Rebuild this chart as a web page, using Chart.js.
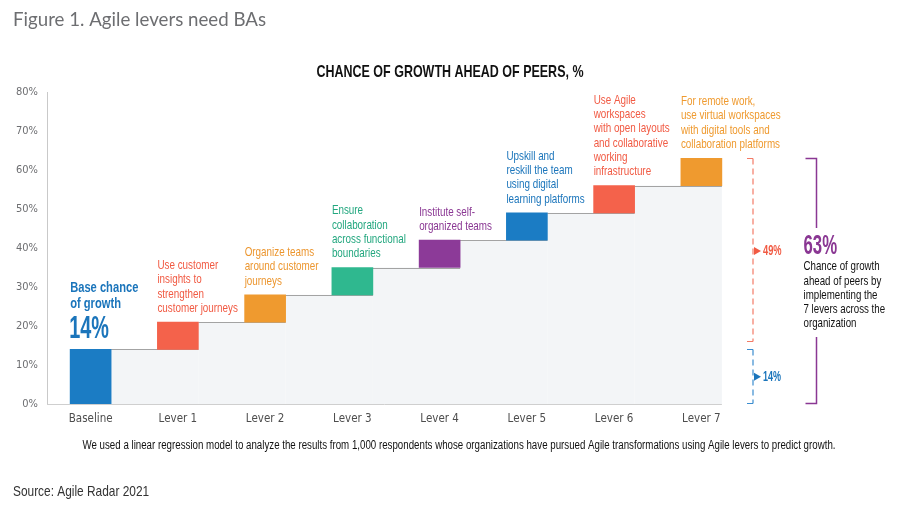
<!DOCTYPE html>
<html><head><meta charset="utf-8">
<script src="https://cdn.jsdelivr.net/npm/chart.js@4"></script>
<style>html,body{margin:0;padding:0;background:#fff;}canvas{display:block;}</style>
</head><body>
<canvas id="c" width="902" height="512" style="width:902px;height:512px"></canvas>
<script>
const categories = ['Baseline','Lever 1','Lever 2','Lever 3','Lever 4','Lever 5','Lever 6','Lever 7'];
const barStart = [0,14,21,28,35,42,49,56];
const barEnd = [14,21,28,35,42,49,56,63];
const barColors = ['#1b7cc4','#f4624b','#ef9a2f','#2fb88f','#8c3a98','#1b7cc4','#f4624b','#ef9a2f'];
const noteColors = ['#1b75bb','#f15a43','#ec962f','#23a77f','#8a3793','#1b75bb','#f15a43','#ef9a2f'];
const leverNotes = [
  ['Base chance','of growth'],
  ['Use customer','insights to','strengthen','customer journeys'],
  ['Organize teams','around customer','journeys'],
  ['Ensure','collaboration','across functional','boundaries'],
  ['Institute self-','organized teams'],
  ['Upskill and','reskill the team','using digital','learning platforms'],
  ['Use Agile','workspaces','with open layouts','and collaborative','working','infrastructure'],
  ['For remote work,','use virtual workspaces','with digital tools and','collaboration platforms']
];
const yTicks = [0,10,20,30,40,50,60,70,80];
const baseLabel = '14%';
const leverGainLabel = '49%';
const totalLabel = '63%';
const leverBracket = [16,63];
const baseBracket = [0,14];
const totalBracket = [0,63];
const totalNote = ['Chance of growth','ahead of peers by','implementing the','7 levers across the','organization'];
const headerText = 'Figure 1. Agile levers need BAs';
const chartTitle = 'CHANCE OF GROWTH AHEAD OF PEERS, %';
const footnote = 'We used a linear regression model to analyze the results from 1,000 respondents whose organizations have pursued Agile transformations using Agile levers to predict growth.';
const sourceText = 'Source: Agile Radar 2021';

const fontA = '"Liberation Sans", Arial, sans-serif';
const fontC = '"DejaVu Sans Condensed", sans-serif';

// text helper; sx = horizontal condensing factor
function txt(ctx, s, x, y, font, color, align, sx, maxW) {
  ctx.save();
  ctx.font = font; ctx.fillStyle = color; ctx.textAlign = align || 'left'; ctx.textBaseline = 'middle';
  ctx.translate(x, y);
  ctx.scale(sx || 1, 1);
  if (maxW) ctx.fillText(s, 0, 0, maxW / (sx || 1)); else ctx.fillText(s, 0, 0);
  ctx.restore();
}

const deco = {
  id: 'deco',
  beforeDatasetsDraw(chart) {
    const {ctx, chartArea: a, scales: {y}} = chart;
    const meta = chart.getDatasetMeta(0);
    const y0 = y.getPixelForValue(0);
    ctx.save();
    ctx.fillStyle = '#f3f5f7';
    for (let i = 1; i < meta.data.length; i++) {
      const p = meta.data[i-1], q = meta.data[i];
      const x0 = p.x + p.width/2, x1 = q.x + q.width/2;
      const yt = y.getPixelForValue(barStart[i]);
      ctx.fillRect(x0, yt, x1 - x0, y0 - yt);
    }
    ctx.strokeStyle = '#a3a3a3'; ctx.lineWidth = 1;
    for (let i = 1; i < meta.data.length; i++) {
      const p = meta.data[i-1], q = meta.data[i];
      const x0 = p.x + p.width/2, x1 = q.x + q.width/2;
      const yt = Math.round(y.getPixelForValue(barStart[i])) + 0.5;
      ctx.beginPath(); ctx.moveTo(x0, yt); ctx.lineTo(x1, yt); ctx.stroke();
    }
    const last = meta.data[meta.data.length-1];
    ctx.strokeStyle = '#cfcfcf';
    ctx.beginPath(); ctx.moveTo(a.left, Math.round(y0)+0.5); ctx.lineTo(last.x + last.width/2, Math.round(y0)+0.5); ctx.stroke();
    ctx.restore();
  },
  afterDraw(chart) {
    const {ctx, chartArea: a, scales: {y}} = chart;
    const meta = chart.getDatasetMeta(0);
    ctx.save();
    // header texts
    txt(ctx, headerText, 13, 20, '19px Lato, "Open Sans", sans-serif', '#6d6e71', 'left', 1, 253);
    txt(ctx, chartTitle, 450, 72, 'bold 17px ' + fontA, '#111', 'center', 0.78, 267);
    txt(ctx, footnote, 459, 446, '12.5px ' + fontA, '#111', 'center', 0.8, 753);
    txt(ctx, sourceText, 13, 492, '14.5px ' + fontA, '#333', 'left', 0.82, 138);
    // lever notes
    const lh = 14.3;
    for (let i = 1; i < meta.data.length; i++) {
      const b = meta.data[i];
      const xl = b.x - b.width/2;
      const top = y.getPixelForValue(barEnd[i]);
      const lines = leverNotes[i];
      lines.forEach((s, k) => {
        const yy = top - 14 - (lines.length - 1 - k) * lh;
        txt(ctx, s, xl, yy, '13.5px ' + fontA, noteColors[i], 'left', 0.73);
      });
    }
    // baseline note
    const b0 = meta.data[0];
    const xl0 = b0.x - b0.width/2;
    const top0 = y.getPixelForValue(barEnd[0]);
    txt(ctx, leverNotes[0][0], xl0, top0 - 62, 'bold 15.5px ' + fontA, noteColors[0], 'left', 0.72);
    txt(ctx, leverNotes[0][1], xl0, top0 - 46, 'bold 15.5px ' + fontA, noteColors[0], 'left', 0.72);
    txt(ctx, baseLabel, xl0 - 1, top0 - 20, 'bold 32px ' + fontA, noteColors[0], 'left', 0.62);
    // brackets
    const bx = a.right + 8;
    function dashedBracket(range, color) {
      const yt = Math.round(y.getPixelForValue(range[1])) + 0.5;
      const yb = Math.round(y.getPixelForValue(range[0])) - 0.5;
      ctx.strokeStyle = color; ctx.lineWidth = 1.2;
      ctx.setLineDash([]);
      ctx.beginPath(); ctx.moveTo(bx - 6, yt); ctx.lineTo(bx, yt); ctx.moveTo(bx - 6, yb); ctx.lineTo(bx, yb); ctx.stroke();
      ctx.setLineDash([6, 4]);
      ctx.beginPath(); ctx.moveTo(bx, yt); ctx.lineTo(bx, yb); ctx.stroke();
      ctx.setLineDash([]);
    }
    function arrow(yc, color) {
      ctx.fillStyle = color;
      ctx.beginPath(); ctx.moveTo(bx + 1, yc - 4); ctx.lineTo(bx + 8, yc); ctx.lineTo(bx + 1, yc + 4); ctx.closePath(); ctx.fill();
    }
    dashedBracket(leverBracket, '#f37b67');
    arrow(251, '#f15a43');
    txt(ctx, leverGainLabel, bx + 10, 251, 'bold 15px ' + fontA, '#f15a43', 'left', 0.62);
    dashedBracket(baseBracket, '#3b8dcf');
    const yb14 = (y.getPixelForValue(baseBracket[0]) + y.getPixelForValue(baseBracket[1])) / 2;
    arrow(yb14, '#1b75bb');
    txt(ctx, baseLabel, bx + 10, yb14, 'bold 15px ' + fontA, '#1b75bb', 'left', 0.6);
    // total bracket
    const px = bx + 63.5;
    const pt = Math.round(y.getPixelForValue(totalBracket[1])) + 0.5;
    const pb = Math.round(y.getPixelForValue(totalBracket[0])) - 0.5;
    ctx.strokeStyle = '#8a3793'; ctx.lineWidth = 1.5;
    ctx.beginPath();
    ctx.moveTo(px - 11, pt); ctx.lineTo(px, pt); ctx.lineTo(px, 228);
    ctx.moveTo(px, 337); ctx.lineTo(px, pb); ctx.lineTo(px - 11, pb);
    ctx.stroke();
    txt(ctx, totalLabel, px - 13, 246, 'bold 28px ' + fontA, '#8a3793', 'left', 0.6);
    totalNote.forEach((s, k) => txt(ctx, s, px - 13, 266.7 + k * 14.2, '13.5px ' + fontA, '#111', 'left', 0.72));
    ctx.restore();
  }
};

new Chart(document.getElementById('c'), {
  type: 'bar',
  data: {
    labels: categories,
    datasets: [{
      data: barStart.map((s, i) => [s, barEnd[i]]),
      backgroundColor: barColors,
      borderWidth: 0,
      borderSkipped: false,
      barThickness: 41
    }]
  },
  options: {
    responsive: false,
    devicePixelRatio: 1,
    animation: false,
    layout: {padding: {left: 0, right: 157, top: 92, bottom: 78}},
    plugins: {legend: {display: false}, tooltip: {enabled: false}, title: {display: false}},
    scales: {
      x: {
        grid: {display: false, drawTicks: false},
        border: {display: false},
        ticks: {color: '#4d4d4d', font: {family: fontC, size: 11.5}, padding: 8},
        afterFit(s) { s.height = 30; }
      },
      y: {
        min: 0, max: 80,
        afterBuildTicks(s) { s.ticks = yTicks.map(v => ({value: v})); },
        grid: {display: false, drawTicks: false},
        border: {display: true, color: '#c9c9c9'},
        ticks: {color: '#6d6e71', font: {family: fontC, size: 11}, padding: 9, callback: v => v + '%'},
        afterFit(s) { s.width = 47; }
      }
    }
  },
  plugins: [deco]
});
</script>
</body></html>
